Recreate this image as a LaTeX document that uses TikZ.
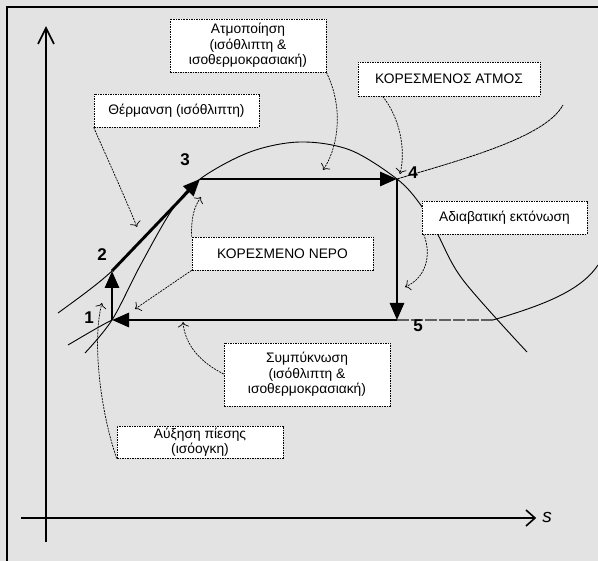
\documentclass[tikz,border=0pt]{standalone}
\usepackage{fontspec}
\setmainfont{Liberation Sans}
\usetikzlibrary{arrows.meta}
\definecolor{bg}{HTML}{E3E3E3}
\begin{document}
\begin{tikzpicture}[x=1pt,y=-1pt,
  lbl/.style={draw=black, fill=white, line width=0.7pt, dash pattern=on 1.5pt off 1pt,
    inner sep=0pt, align=center, font=\fontsize{13.8}{15.5}\selectfont},
  conn/.style={line width=0.7pt, dash pattern=on 2pt off 1pt, -{To[length=5pt,width=11pt]}},
  thickarr/.style={line width=2.9pt, -{Triangle[length=17pt,width=14pt]}},
  thin/.style={line width=0.9pt},
  num/.style={font=\fontsize{17}{17}\selectfont\bfseries, inner sep=0pt},
  axis/.style={line width=1.8pt}
]
\useasboundingbox (0,0) rectangle (598,561);
\fill[bg] (0,0) rectangle (598,561);
% frame
\draw[line width=2.5pt] (7,561) -- (7,7) -- (598,7);

% axes
\coordinate (yb) at (46,542);
\coordinate (yt) at (46,28);
\coordinate (xl) at (21,518);
\coordinate (xr) at (535,518);
\draw[axis] (yb) -- (yt);
\draw[line width=1.6pt] (38,44) -- (yt) -- (54,44);
\draw[axis] (xl) -- (xr);
\draw[line width=1.6pt] (526,510) -- (xr) -- (526,526);
\node (slab) at (547,517) {\fontsize{19}{19}\selectfont\itshape s};

% cycle points
\coordinate (p1) at (112,320);
\coordinate (p2) at (112,271);
\coordinate (p3) at (200,179);
\coordinate (p4) at (397,179);
\coordinate (p5) at (397,320);
\coordinate (p5r) at (493,320);

% saturation dome
\draw[thin] plot[smooth, tension=0.55] coordinates {(85,353) (112,320) (140,266) (172,210) (200,179) (250,152) (300,142) (350,150) (397,179) (420,204) (437,233) (463,280) (527,352)};
% isobars
\draw[thin] (58,313) .. controls (80,297) and (98,284) .. (p2);
\draw[thin] (68,345) .. controls (85,335) and (100,326) .. (p1);
\draw[line width=1.4pt, gray!75!black, dash pattern=on 12pt off 2pt] (p5) -- (p5r);
\draw[thin] (p5r) .. controls (540,306) and (580,292) .. (598,265);
\draw[line width=0.8pt, dash pattern=on 3pt off 0.6pt] (p4) .. controls (460,160) and (545,138) .. (563,105);

% cycle arrows
\draw[thickarr] (p1) -- (p2);
\draw[thickarr] (p2) -- (p3);
\draw[thickarr] (p3) -- (p4);
\draw[thickarr] (p4) -- (p5);
\draw[thickarr] (p5) -- (p1);

% numbers
\node[num] (n1) at (89,318) {1};
\node[num] (n2) at (102,255) {2};
\node[num] (n3) at (185,160) {3};
\node[num] (n4) at (413,173) {4};
\node[num] (n5) at (418,326) {5};

% label boxes
\node[lbl, minimum width=156pt, minimum height=53pt] (atm) at (248,45.5) {Ατμοποίηση\\(ισόθλιπτη \&\\ισοθερμοκρασιακή)};
\node[lbl, minimum width=165pt, minimum height=33pt] (therm) at (176.5,110.5) {Θέρμανση (ισόθλιπτη)};
\node[lbl, minimum width=182pt, minimum height=34pt] (katm) at (449,79) {ΚΟΡΕΣΜΕΝΟΣ ΑΤΜΟΣ};
\node[lbl, minimum width=165pt, minimum height=33pt] (adiab) at (504.5,217.5) {Αδιαβατική εκτόνωση};
\node[lbl, minimum width=181pt, minimum height=33pt] (kner) at (282.5,253.5) {ΚΟΡΕΣΜΕΝΟ ΝΕΡΟ};
\node[lbl, minimum width=166pt, minimum height=63pt] (symp) at (307,374.5) {Συμπύκνωση\\(ισόθλιπτη \&\\ισοθερμοκρασιακή)};
\node[lbl, minimum width=166pt, minimum height=32pt, font=\fontsize{13.8}{14.5}\selectfont] (afx) at (200,442) {Αύξηση πίεσης\\(ισόογκη)};

% connector tips
\coordinate (ta) at (137,227);
\coordinate (tb) at (323,170);
\coordinate (tc) at (400,174);
\coordinate (td) at (405,287);
\coordinate (te1) at (201,197);
\coordinate (te2) at (135,309);
\coordinate (tf) at (183,322);
\coordinate (tg) at (102,303);

% connectors
\draw[conn] (therm.south west) .. controls (108,160) and (124,195) .. (ta);
\draw[conn] (atm.south east) .. controls (345,110) and (337,150) .. (tb);
\draw[conn] ([xshift=25pt]katm.south west) .. controls (400,118) and (406,150) .. (tc);
\draw[conn] ([xshift=2pt]adiab.south west) .. controls (432,255) and (426,278) .. (td);
\draw[conn] (kner.north west) .. controls (191,218) and (194,207) .. (te1);
\draw[conn] (kner.south west) -- (te2);
\draw[conn] ([yshift=0.5pt]symp.west) .. controls (200,362) and (185,345) .. (tf);
\draw[conn] (afx.south west) .. controls (100,410) and (92,340) .. (tg);
\end{tikzpicture}
\end{document}
